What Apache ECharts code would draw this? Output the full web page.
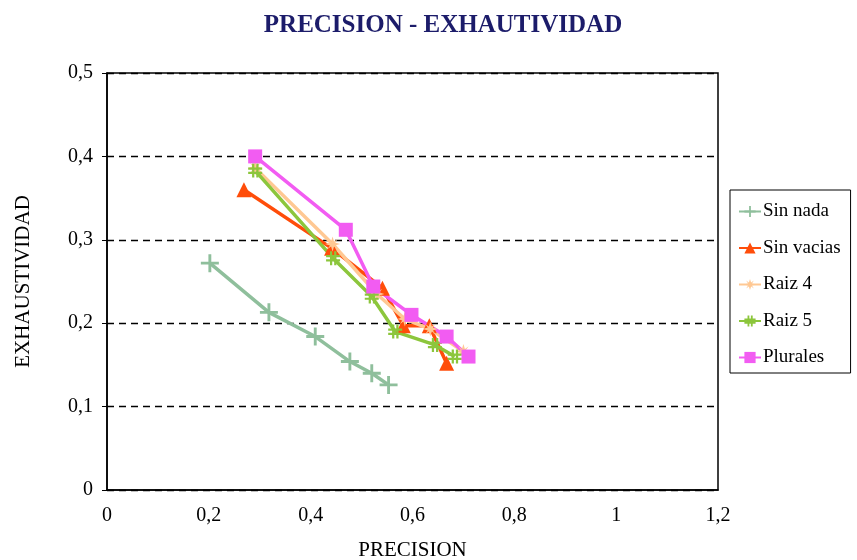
<!DOCTYPE html>
<html>
<head>
<meta charset="utf-8">
<script src="https://cdn.jsdelivr.net/npm/echarts@6/dist/echarts.min.js"></script>
<style>
  html, body { margin: 0; padding: 0; background: #ffffff; }
  #chart { width: 857px; height: 560px; }
</style>
</head>
<body>
<div id="chart"></div>
<script>
// Precision / recall pairs [precision, exhaustividad] per configuration
const sinNada    = [[0.202, 0.272], [0.318, 0.213], [0.409, 0.184], [0.477, 0.154], [0.520, 0.140], [0.553, 0.126]];
const sinVacias  = [[0.269, 0.360], [0.441, 0.290], [0.541, 0.242], [0.582, 0.197], [0.633, 0.197], [0.667, 0.152]];
const raiz4      = [[0.291, 0.386], [0.443, 0.295], [0.530, 0.235], [0.585, 0.205], [0.635, 0.193], [0.700, 0.166]];
const raiz5      = [[0.291, 0.383], [0.444, 0.278], [0.520, 0.232], [0.566, 0.190], [0.644, 0.174], [0.683, 0.160]];
const plurales   = [[0.291, 0.400], [0.469, 0.312], [0.523, 0.244], [0.598, 0.210], [0.667, 0.184], [0.710, 0.160]];

const seriesNames = ['Sin nada', 'Sin vacias', 'Raiz 4', 'Raiz 5', 'Plurales'];
const xTicks = [0, 0.2, 0.4, 0.6, 0.8, 1, 1.2];
const yTicks = [0, 0.1, 0.2, 0.3, 0.4, 0.5];

const SERIF = '"Liberation Serif", "DejaVu Serif", serif';

// marker shapes
const plusPath  = 'path://M4.2,0h1.6v4.2h4.2v1.6h-4.2v4.2h-1.6v-4.2h-4.2v-1.6h4.2z';
const hashPath  = 'path://M2.8,0h1.6v10h-1.6z M5.8,0h1.6v10h-1.6z M0,2.8h10v1.6h-10z M0,5.8h10v1.6h-10z';
const sunPath   = 'path://M5,0 L6,3.3 L8.5,1.5 L6.7,4 L10,5 L6.7,6 L8.5,8.5 L6,6.7 L5,10 L4,6.7 L1.5,8.5 L3.3,6 L0,5 L3.3,4 L1.5,1.5 L4,3.3 Z';

const fmt = v => String(+v.toFixed(2)).replace('.', ',');

function makeSeries(name, data, color, symbol, size) {
  return {
    name: name,
    type: 'line',
    data: data,
    symbol: symbol,
    symbolSize: size,
    showAllSymbol: true,
    lineStyle: { color: color, width: 3.5 },
    itemStyle: { color: color, borderColor: color, borderWidth: 0 },
    emphasis: { disabled: true },
    animation: false
  };
}

const chart = echarts.init(document.getElementById('chart'), null, { renderer: 'canvas' });

chart.setOption({
  backgroundColor: '#ffffff',
  animation: false,
  title: {
    text: 'PRECISION - EXHAUTIVIDAD',
    left: 438,
    textAlign: 'center',
    top: 8,
    textStyle: { fontFamily: SERIF, fontSize: 25, fontWeight: 'bold', color: '#1c1c6a' }
  },
  legend: {
    orient: 'vertical',
    left: 730,
    top: 190,
    width: 123,
    padding: [12, 10, 6, 8],
    itemGap: 17.5,
    itemWidth: 22,
    itemHeight: 14,
    borderColor: '#000000',
    borderWidth: 1,
    backgroundColor: '#ffffff',
    data: seriesNames,
    textStyle: { fontFamily: SERIF, fontSize: 19, color: '#000000', padding: [0, 0, 0, -3] }
  },
  grid: {
    left: 107, right: 139, top: 73, bottom: 70,
    outerBoundsMode: 'none',
    containLabel: false,
    show: true, borderColor: '#000000', borderWidth: 1.5
  },
  xAxis: {
    type: 'value',
    min: 0, max: 1.2, interval: 0.2,
    name: 'PRECISION',
    nameLocation: 'middle',
    nameGap: 50,
    nameTextStyle: { fontFamily: SERIF, fontSize: 21, color: '#000000' },
    axisLine: { show: true, lineStyle: { color: '#000000', width: 1.5 } },
    axisTick: { show: false },
    splitLine: { show: false },
    axisLabel: {
      margin: 16,
      fontFamily: SERIF, fontSize: 20, color: '#000000',
      formatter: v => fmt(v)
    }
  },
  yAxis: {
    type: 'value',
    min: 0, max: 0.5, interval: 0.1,
    name: 'EXHAUSTIVIDAD',
    nameLocation: 'middle',
    nameGap: 73,
    nameTextStyle: { fontFamily: SERIF, fontSize: 21, color: '#000000' },
    axisLine: { show: true, lineStyle: { color: '#000000', width: 1.5 } },
    axisTick: { show: true, inside: false, length: 5, lineStyle: { color: '#000000' } },
    splitLine: {
      show: true,
      lineStyle: { color: '#000000', type: [7, 5], width: 1.3 }
    },
    axisLabel: {
      margin: 14,
      fontFamily: SERIF, fontSize: 20, color: '#000000',
      formatter: v => fmt(v)
    }
  },
  series: [
    makeSeries(seriesNames[0], sinNada,   '#8fbf9c', plusPath, 18),
    makeSeries(seriesNames[1], sinVacias, '#ff4d0a', 'triangle', 15),
    makeSeries(seriesNames[2], raiz4,     '#ffc893', sunPath, 15),
    makeSeries(seriesNames[3], raiz5,     '#8cc63c', hashPath, 14),
    makeSeries(seriesNames[4], plurales,  '#f25cf2', 'rect', 14)
  ]
});
</script>
</body>
</html>
